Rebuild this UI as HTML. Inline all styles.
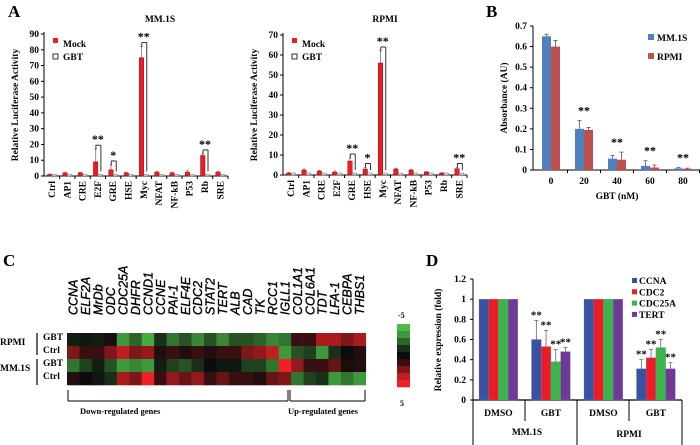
<!DOCTYPE html>
<html><head><meta charset="utf-8">
<style>
html,body{margin:0;padding:0;background:#fff;}
svg{display:block;font-family:"Liberation Serif",serif;}
</style></head>
<body>
<svg id="fig" width="700" height="445" viewBox="0 0 700 445" xmlns="http://www.w3.org/2000/svg">
<g id="root"></g>
</svg>
<script>
// ---------- Panel A data ----------
const aCats = ["Ctrl","AP1","CRE","E2F","GRE","HSE","Myc","NFAT","NF-kB","P53","Rb","SRE"];
const aMM_mock = [1,2,2,9,4,2,75,2.5,2,2.5,13,2.5];
const aMM_mockErr = [0.3,0.4,0.4,8,3,0.4,7,0.5,0.4,1,1,0.5];
const aMM_gbt = [1,1,1,1,1,1,1,1,1,1,1,1];
const aMM_sig = ["","","","**","*","","**","","","","**",""];
const aMM_ticks = [0,10,20,30,40,50,60,70,80,90];
const aRP_mock = [1,2.5,2,1.5,7,3,56,3,2.5,1.5,1,3.2];
const aRP_mockErr = [0.3,0.5,0.4,0.5,1.5,0.8,6,0.4,0.4,0.3,0.2,0.6];
const aRP_gbt = [1,1,1,1,1,1,1,1,1,1,1,1];
const aRP_sig = ["","","","","**","*","**","","","","","**"];
const aRP_ticks = [0,10,20,30,40,50,60,70];
// ---------- Panel B data ----------
const bCats = ["0","20","40","60","80"];
const bMM = [0.65,0.20,0.055,0.02,0.008];
const bMMErr = [0.01,0.04,0.015,0.025,0.004];
const bRP = [0.60,0.195,0.05,0.012,0.006];
const bRPErr = [0.03,0.012,0.037,0.012,0.003];
const bSig = ["","**","**","**","**"];
const bTicks = [0,0.1,0.2,0.3,0.4,0.5,0.6,0.7];
// ---------- Panel C data ----------
const cGenes = ["CCNA","ELF2A","MrDb","ODC","CDC25A","DHFR","CCND1","CCNE","PAI-1","ELF4E","CDC2","STAT2","TERT","ALB","CAD","TK","RCC1","IGLL1","COL1A1","COL6A1","TDT","LFA-1","CEBPA","THBS1"];
const cRows = ["RPMI GBT","RPMI Ctrl","MM.1S GBT","MM.1S Ctrl"];
const cRPMI_GBT = [-0.5,-0.3,-0.5,0.3,-4,-2.5,-4.5,-1,-3,-2,-3.5,-2,-3.5,-2,-2,-2.5,-3.5,-3,1,1,3.5,3.5,2.5,3.5];
const cRPMI_Ctrl = [2.5,1,1,2.5,4,2.5,3,0.5,1,0.5,1,0.5,1,1,2.5,3,4,-4,-2,-1.5,-4,-1,0,0.5];
const cMM_GBT = [-3,-1.5,-0.5,-2,-4,-3.5,-4,-0.5,-1.5,-2,-1,0,-0.3,-0.3,-1.5,-1.5,-3,5,3,1,1,2,0.3,0.5];
const cMM_Ctrl = [0.5,0,-0.3,-1,3.5,2.5,5,1,3,2,3,1,2,1,1,0.5,2,2.5,-3,-1.5,-1,-4,-3,-4];
// ---------- Panel D data ----------
const dCats = ["DMSO","GBT","DMSO","GBT"];
const dSeries = ["CCNA","CDC2","CDC25A","TERT"];
const dCCNA = [1,0.60,1,0.31];
const dCDC2 = [1,0.53,1,0.42];
const dCDC25A = [1,0.38,1,0.52];
const dTERT = [1,0.48,1,0.31];
const dErr = [[0,0.19,0,0.09],[0,0.16,0,0.08],[0,0.12,0,0.08],[0,0.04,0,0.06]];
const dSig = ["","**","","**"];
const dTicks = [0,0.2,0.4,0.6,0.8,1,1.2];

const NS="http://www.w3.org/2000/svg";
const root=document.getElementById('root');
function el(tag,attrs,parent,txt){const e=document.createElementNS(NS,tag);for(const k in attrs)e.setAttribute(k,attrs[k]);if(txt!==undefined)e.textContent=txt;(parent||root).appendChild(e);return e;}
function line(x1,y1,x2,y2,c,w,p){return el('line',{x1,y1,x2,y2,stroke:c||'#000','stroke-width':w||1},p);}
function text(x,y,t,size,extra,p){const a={x,y,'font-size':size,'font-weight':'bold'};for(const k in extra)a[k]=extra[k];return el('text',a,p,t);}

let t;
t=text(8,17,"A",17);
t=text(486,17,"B",17);
t=text(3,266,"C",17);
t=text(426,266,"D",17);

// ---------- Panel A drawing ----------
function drawA(cfg){
  const g=el('g',{});
  
  
  const max=cfg.ticks[cfg.ticks.length-1];
  const y=v=>cfg.y0-(v/max)*(cfg.y0-cfg.yTop);
  const x=i=>cfg.x0+i*cfg.step;
  line(cfg.ax,cfg.yTop-2,cfg.ax,cfg.y0,'#000',1,g);
  line(cfg.ax,cfg.y0,cfg.x0+(aCats.length-0.5)*cfg.step,cfg.y0,'#000',1,g);
  cfg.ticks.forEach(v=>{
    line(cfg.ax-3,y(v),cfg.ax,y(v),'#000',1,g);
    const tl=text(cfg.ax-5,y(v)+3,String(v),9.5,{'text-anchor':'end'},g);
    
    
  });
  aCats.forEach((c,i)=>{
    line(x(i)+cfg.step/2,cfg.y0,x(i)+cfg.step/2,cfg.y0+3,'#000',1,g);
    const cx=x(i);
    const mb=el('rect',{x:cx-4.5,y:y(cfg.mock[i]),width:4.5,height:cfg.y0-y(cfg.mock[i]),fill:'#ee1c24',stroke:'#7a0000','stroke-width':0.4},g);
    
    
    const gb=el('rect',{x:cx,y:y(cfg.gbt[i]),width:4.5,height:cfg.y0-y(cfg.gbt[i]),fill:'#d8d8d8',stroke:'#555','stroke-width':0.4},g);
    
    
    const et=y(cfg.mock[i]+cfg.err[i]);
    line(cx-2.2,et,cx-2.2,y(cfg.mock[i]),'#777',0.8,g);
    line(cx-3.5,et,cx-1,et,'#777',0.8,g);
    const tx=el('text',{x:0,y:0,'font-size':9.5,'font-weight':'bold','text-anchor':'end',transform:`translate(${cx+3},${cfg.y0+5}) rotate(-90)`},g,c);
    
    
    if(cfg.sig[i]){
      const top=et-4;
      line(cx-2,top,cx+3,top,'#000',0.8,g);
      line(cx-2,top,cx-2,top+4,'#000',0.8,g);
      line(cx+3,top,cx+3,y(cfg.gbt[i])-3,'#000',0.8,g);
      const st=text(cx,top-2,cfg.sig[i],12,{'text-anchor':'middle'},g);
      
      
    }
  });
  const ti=text(cfg.titleX,22,cfg.title,9.5,{'text-anchor':'middle'},g);
  
  
  const yt=el('text',{x:0,y:0,'font-size':9.5,'font-weight':'bold','text-anchor':'middle',transform:`translate(${cfg.ax-26},${(cfg.y0+cfg.yTop)/2}) rotate(-90)`},g,'Relative Luciferase Activity');
  
  
  const lg=el('g',{},g);
  
  
  el('rect',{x:cfg.ax+9,y:38,width:5,height:5,fill:'#ee1c24'},lg);
  text(cfg.ax+19,47,'Mock',9.5,{},lg);
  el('rect',{x:cfg.ax+9,y:54,width:5,height:5,fill:'#fff',stroke:'#000','stroke-width':0.8},lg);
  text(cfg.ax+19,60,'GBT',9.5,{},lg);
}
drawA({name:'chart-a-mm1s',ax:44,x0:52,step:15.3,y0:176,yTop:34,ticks:aMM_ticks,mock:aMM_mock,err:aMM_mockErr,gbt:aMM_gbt,sig:aMM_sig,title:'MM.1S',titleX:160});
drawA({name:'chart-a-rpmi',ax:283,x0:291,step:15.3,y0:175,yTop:35,ticks:aRP_ticks,mock:aRP_mock,err:aRP_mockErr,gbt:aRP_gbt,sig:aRP_sig,title:'RPMI',titleX:385});

// ---------- Panel B ----------
(function(){
  const g=el('g',{});
  
  
  const ax=533,y0=170,yTop=26,max=0.7;
  const y=v=>y0-(v/max)*(y0-yTop);
  const x=i=>551+i*33;
  line(ax,yTop,ax,y0,'#000',1,g);
  line(ax,y0,700,y0,'#000',1,g);
  bTicks.forEach(v=>{
    line(ax-3,y(v),ax,y(v),'#000',1,g);
    const tl=text(ax-6,y(v)+3,String(v),9.5,{'text-anchor':'end'},g);
    
    
  });
  bCats.forEach((c,i)=>{
    line(x(i)+16.5,y0,x(i)+16.5,y0+3,'#000',1,g);
    const cx=x(i);
    const b1=el('rect',{x:cx-9,y:y(bMM[i]),width:9,height:y0-y(bMM[i]),fill:'#4f81bd'},g);
    
    
    const b2=el('rect',{x:cx,y:y(bRP[i]),width:9,height:y0-y(bRP[i]),fill:'#c0504d'},g);
    
    
    [[cx-4.5,bMM[i],bMMErr[i]],[cx+4.5,bRP[i],bRPErr[i]]].forEach(([ex,v,e])=>{
      line(ex,y(v+e),ex,y(v),'#555',0.8,g);line(ex-2,y(v+e),ex+2,y(v+e),'#555',0.8,g);
    });
    const tl=text(cx,184,c,9.5,{'text-anchor':'middle'},g);
    
    
    if(bSig[i]){const s=text(cx,y(Math.max(bMM[i]+bMMErr[i],bRP[i]+bRPErr[i]))-6,bSig[i],12,{'text-anchor':'middle'},g);
      
      }
  });
  const xt=text(617,199,'GBT (nM)',9.5,{'text-anchor':'middle'},g);
  
  
  const yt=el('text',{x:0,y:0,'font-size':9.5,'font-weight':'bold','text-anchor':'middle',transform:`translate(507,98) rotate(-90)`},g,'Absorbance (AU)');
  
  
  const lg=el('g',{},g);
  
  
  el('rect',{x:648,y:34,width:6,height:6,fill:'#4f81bd'},lg);
  text(657,41,'MM.1S',9.5,{},lg);
  el('rect',{x:648,y:53,width:6,height:6,fill:'#c0504d'},lg);
  text(657,60,'RPMI',9.5,{},lg);
})();

// ---------- Panel C ----------
(function(){
  const g=el('g',{});
  
  
  const x0=67,cw=12.45,y0=333,rh=13;
  const rows=[cRPMI_GBT,cRPMI_Ctrl,cMM_GBT,cMM_Ctrl];
  function col(v){
    const t=Math.min(1,Math.abs(v)/5);
    const end=v<0?[76,187,71]:[238,34,38];
    const base=[12,12,12];
    return `rgb(${base.map((b,k)=>Math.round(b+(end[k]-b)*t)).join(',')})`;
  }
  rows.forEach((r,ri)=>{
    r.forEach((v,ci)=>{
      const c=el('rect',{x:x0+ci*cw,y:y0+ri*rh,width:cw+0.3,height:rh+0.3,fill:col(v)},g);
      
      
    });
  });
  cGenes.forEach((gn,ci)=>{
    const tl=el('text',{x:0,y:0,'font-size':12.5,'font-style':'italic','font-family':'"Liberation Sans",sans-serif',stroke:'#000','stroke-width':0.35,transform:`translate(${x0+ci*cw+cw/2+4.5},315) rotate(-90)`},g,gn);
    
    
  });
  [["RPMI",0,345],["MM.1S",0,371]].forEach(([s,xx,yy])=>{const t=text(xx,yy,s,9.5,{},g);});
  [["GBT",340],["Ctrl",353],["GBT",366],["Ctrl",379]].forEach(([s,yy])=>{const t=text(43,yy,s,9.5,{},g);});
  line(37,333,37,355,'#000',1.2,g);line(37,359,37,385,'#000',1.2,g);
  line(68,401,288,401,'#000',1,g);line(68,390,68,401,'#000',1,g);line(288,390,288,401,'#000',1,g);
  line(290,401,365,401,'#000',1,g);line(290,390,290,401,'#000',1,g);line(365,390,365,401,'#000',1,g);
  const d=text(80,414,'Down-regulated genes',8.5,{},g);
  const u=text(288,414,'Up-regulated  genes',8.5,{},g);
  const cb=el('g',{},g);
  
  
  const steps=[-5,-4,-2.5,-1,0,1,2.5,4,5];
  steps.forEach((v,k)=>{el('rect',{x:397,y:324+k*7,width:13,height:7.3,fill:col(v)},cb);});
  text(398,318,'-5',8,{},cb);text(400,406,'5',8,{},cb);
})();

// ---------- Panel D ----------
(function(){
  const g=el('g',{});
  
  
  const ax=473,y0=400,yTop=279,max=1.2;
  const y=v=>y0-(v/max)*(y0-yTop);
  const colors=['#3953a4','#ed1c24','#3ab54a','#6f3996'];
  const vals=[dCCNA,dCDC2,dCDC25A,dTERT];
  line(ax,yTop,ax,445,'#000',1,g);
  line(ax,y0,682,y0,'#000',1.2,g);
  dTicks.forEach(v=>{
    line(ax-3,y(v),ax,y(v),'#000',1,g);
    const tl=text(ax-7,y(v)+3,String(v),9.5,{'text-anchor':'end'},g);
    
    
  });
  const gx=i=>479+i*52.5;
  dCats.forEach((c,i)=>{
    vals.forEach((s,k)=>{
      const b=el('rect',{x:gx(i)+k*9.7,y:y(s[i]),width:9.7,height:y0-y(s[i]),fill:colors[k],stroke:'#8878a8','stroke-width':0.3},g);
      
      
      const e=dErr[k][i];
      if(e>0){const cx=gx(i)+k*9.7+4.85;line(cx,y(s[i]+e),cx,y(s[i]),'#666',0.8,g);line(cx-2,y(s[i]+e),cx+2,y(s[i]+e),'#666',0.8,g);}
      if(dSig[i]){const st=text(gx(i)+k*9.7+4.85,y(s[i]+e)-2,dSig[i],11,{'text-anchor':'middle'},g);
        
        }
    });
    const tl=text(gx(i)+19.4,416,c,9.5,{'text-anchor':'middle'},g);
    
    
  });
  [525,629].forEach(xx=>line(xx,y0,xx,421,'#000',1,g));
  [577,682].forEach(xx=>line(xx,y0,xx,445,'#000',1,g));
  const m=text(527,435,'MM.1S',9.5,{'text-anchor':'middle'},g);
  const r=text(629,437,'RPMI',9.5,{'text-anchor':'middle'},g);
  const yt=el('text',{x:0,y:0,'font-size':9.5,'font-weight':'bold','text-anchor':'middle',transform:`translate(441,340) rotate(-90)`},g,'Relative expression (fold)');
  
  
  const lg=el('g',{},g);
  
  
  dSeries.forEach((s,k)=>{
    el('rect',{x:632,y:278+k*11.3,width:5,height:5,fill:colors[k]},lg);
    text(639,284+k*11.3,s,9.5,{},lg);
  });
})();
</script>
</body></html>
